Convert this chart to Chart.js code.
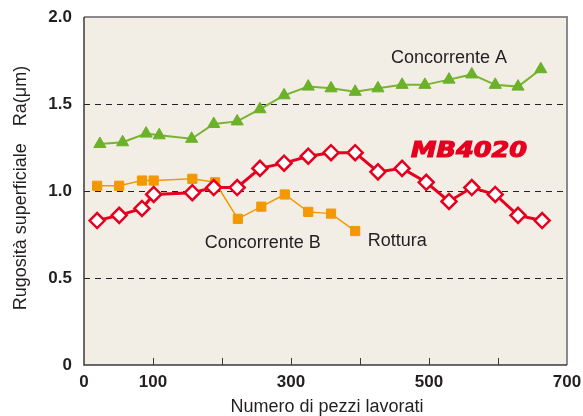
<!DOCTYPE html>
<html lang="it">
<head>
<meta charset="UTF-8">
<title>Rugosità superficiale</title>
<script src="https://cdn.jsdelivr.net/npm/chart.js"></script>
<style>
  html, body { margin: 0; padding: 0; background: #fff; }
  #wrap { position: relative; width: 583px; height: 416px; }
</style>
</head>
<body>
<div id="wrap"><canvas id="myChart"></canvas></div>
<script>
// numero di pezzi lavorati / Ra (um)
const xMB = [19, 51, 84, 101, 157, 188, 222, 255, 290, 325, 358, 393, 426, 461, 496, 529, 562, 596, 629, 664]
const yMB = [0.83, 0.86, 0.90, 0.98, 0.99, 1.02, 1.02, 1.13, 1.16, 1.20, 1.22, 1.22, 1.11, 1.13, 1.05, 0.94, 1.02, 0.98, 0.86, 0.83]

const xA = [23, 56, 90, 109, 156, 188, 222, 255, 290, 325, 358, 393, 426, 461, 494, 529, 562, 596, 629, 662]
const yA = [1.27, 1.28, 1.33, 1.32, 1.30, 1.385, 1.40, 1.47, 1.55, 1.60, 1.59, 1.57, 1.59, 1.61, 1.61, 1.64, 1.67, 1.61, 1.60, 1.70]

const xB = [19, 51, 84, 101, 157, 190, 223, 257, 291, 325, 358, 393]
const yB = [1.03, 1.03, 1.06, 1.06, 1.07, 1.05, 0.84, 0.91, 0.98, 0.88, 0.87, 0.77]

const xTicks = [0, 100, 300, 500, 700]
const yTicks = [0, 0.5, 1.0, 1.5, 2.0]
const yGrid = [0.5, 1.0, 1.5]

const labelsTxt = [
  { text: 'Concorrente A', x: 529, y: 1.765 },
  { text: 'Concorrente B', x: 259, y: 0.70 },
  { text: 'Rottura', x: 454, y: 0.713 }
]
const brand = { text: 'MB4020', x: 558, y: 1.23 }

const pts = (xs, ys) => xs.map((x, i) => ({ x: x, y: ys[i] }))

const txtColor = '#231f20'
const fontFam = '"Liberation Sans", Arial, sans-serif'

const decor = {
  id: 'decor',
  beforeDraw(chart) {
    const { ctx, chartArea: a } = chart
    ctx.save()
    ctx.fillStyle = '#f2eee6'
    ctx.fillRect(a.left, a.top, a.right - a.left, a.bottom - a.top)
    ctx.restore()
  },
  beforeDatasetsDraw(chart) {
    const { ctx, chartArea: a, scales } = chart
    ctx.save()
    ctx.strokeStyle = '#222'
    ctx.lineWidth = 1
    ctx.setLineDash([6, 5])
    yGrid.forEach(v => {
      const y = Math.round(scales.y.getPixelForValue(v)) + 0.5
      ctx.beginPath()
      ctx.moveTo(a.left, y)
      ctx.lineTo(a.right, y)
      ctx.stroke()
    })
    ctx.setLineDash([])
    // cornice
    ctx.strokeStyle = '#8a8a8a'
    ctx.lineWidth = 2
    ctx.beginPath()
    ctx.moveTo(a.left, a.top)
    ctx.lineTo(a.right, a.top)
    ctx.lineTo(a.right, a.bottom)
    ctx.stroke()
    ctx.strokeStyle = '#3a3a3a'
    ctx.lineWidth = 1.5
    ctx.beginPath()
    ctx.moveTo(a.left, a.top)
    ctx.lineTo(a.left, a.bottom)
    ctx.lineTo(a.right, a.bottom)
    ctx.stroke()
    // tacche interne
    ctx.lineWidth = 1
    for (let v = 100; v < 700; v += 100) {
      const x = Math.round(scales.x.getPixelForValue(v)) + 0.5
      ctx.beginPath()
      ctx.moveTo(x, a.bottom)
      ctx.lineTo(x, a.bottom - 7)
      ctx.stroke()
    }
    ctx.restore()
  },
  afterDraw(chart) {
    const { ctx, chartArea: a, scales } = chart
    ctx.save()
    ctx.fillStyle = txtColor
    ctx.textAlign = 'center'
    ctx.textBaseline = 'middle'
    ctx.font = '18px ' + fontFam
    labelsTxt.forEach(l => {
      ctx.fillText(l.text, scales.x.getPixelForValue(l.x), scales.y.getPixelForValue(l.y))
    })
    // titoli assi
    ctx.fillText('Numero di pezzi lavorati', 327, 407)
    ctx.translate(21, 188)
    ctx.rotate(-Math.PI / 2)
    const t1 = 'Rugosità superficiale', t2 = 'Ra(μm)', gap = 17
    const w1 = ctx.measureText(t1).width, w2 = ctx.measureText(t2).width
    const start = -(w1 + gap + w2) / 2
    ctx.textAlign = 'left'
    ctx.fillText(t1, start, 0)
    ctx.fillText(t2, start + w1 + gap, 0)
    ctx.restore()

    // MB4020
    ctx.save()
    ctx.font = 'italic bold 22px "DejaVu Sans", sans-serif'
    ctx.fillStyle = '#e60020'
    ctx.strokeStyle = '#e60020'
    ctx.lineWidth = 1.2
    ctx.textAlign = 'center'
    ctx.textBaseline = 'middle'
    const w = ctx.measureText(brand.text).width
    ctx.translate(scales.x.getPixelForValue(brand.x), scales.y.getPixelForValue(brand.y))
    ctx.scale(116 / w, 1)
    ctx.fillText(brand.text, 0, 0)
    ctx.strokeText(brand.text, 0, 0)
    ctx.restore()
  }
}

const ctx = document.getElementById('myChart')
const myChart = new Chart(ctx, {
  type: 'line',
  data: {
    datasets: [
      {
        label: 'MB4020',
        data: pts(xMB, yMB),
        borderColor: '#e60020',
        borderWidth: 3,
        pointStyle: 'rectRot',
        pointRadius: 7.5,
        pointBorderWidth: 2.5,
        pointBackgroundColor: '#ffffff',
        pointBorderColor: '#e60020',
        order: 0
      },
      {
        label: 'Concorrente A',
        data: pts(xA, yA),
        borderColor: '#7ab42e',
        borderWidth: 2,
        pointStyle: 'triangle',
        pointRadius: 7,
        pointBorderWidth: 1,
        pointBackgroundColor: '#6cb12a',
        pointBorderColor: '#6cb12a',
        order: 1
      },
      {
        label: 'Concorrente B',
        data: pts(xB, yB),
        borderColor: '#f39800',
        borderWidth: 1.5,
        pointStyle: 'rect',
        pointRadius: 6.5,
        pointBorderWidth: 1,
        pointBackgroundColor: '#f39800',
        pointBorderColor: '#f39800',
        order: 2
      }
    ]
  },
  options: {
    responsive: true,
    maintainAspectRatio: false,
    animation: false,
    layout: { padding: { top: 17, right: 16, left: 0, bottom: 0 } },
    plugins: { legend: { display: false }, tooltip: { enabled: false } },
    scales: {
      x: {
        type: 'linear',
        min: 0,
        max: 700,
        afterFit: s => { s.height = 51; s.paddingLeft = 0; s.paddingRight = 0 },
        afterBuildTicks: s => { s.ticks = [0, 100, 200, 300, 400, 500, 600, 700].map(v => ({ value: v })) },
        grid: { display: false, drawTicks: false },
        border: { display: false },
        ticks: {
          autoSkip: false,
          maxRotation: 0,
          padding: 7,
          color: txtColor,
          font: { family: fontFam, size: 17, weight: 'bold' },
          callback: v => xTicks.includes(v) ? String(v) : ''
        }
      },
      y: {
        min: 0,
        max: 2,
        afterFit: s => { s.width = 84; s.paddingTop = 0; s.paddingBottom = 0 },
        afterBuildTicks: s => { s.ticks = yTicks.map(v => ({ value: v })) },
        grid: { display: false, drawTicks: false },
        border: { display: false },
        ticks: {
          padding: 12,
          color: txtColor,
          font: { family: fontFam, size: 17, weight: 'bold' },
          callback: v => v === 0 ? '0' : v.toFixed(1)
        }
      }
    }
  },
  plugins: [decor]
})
</script>
</body>
</html>
